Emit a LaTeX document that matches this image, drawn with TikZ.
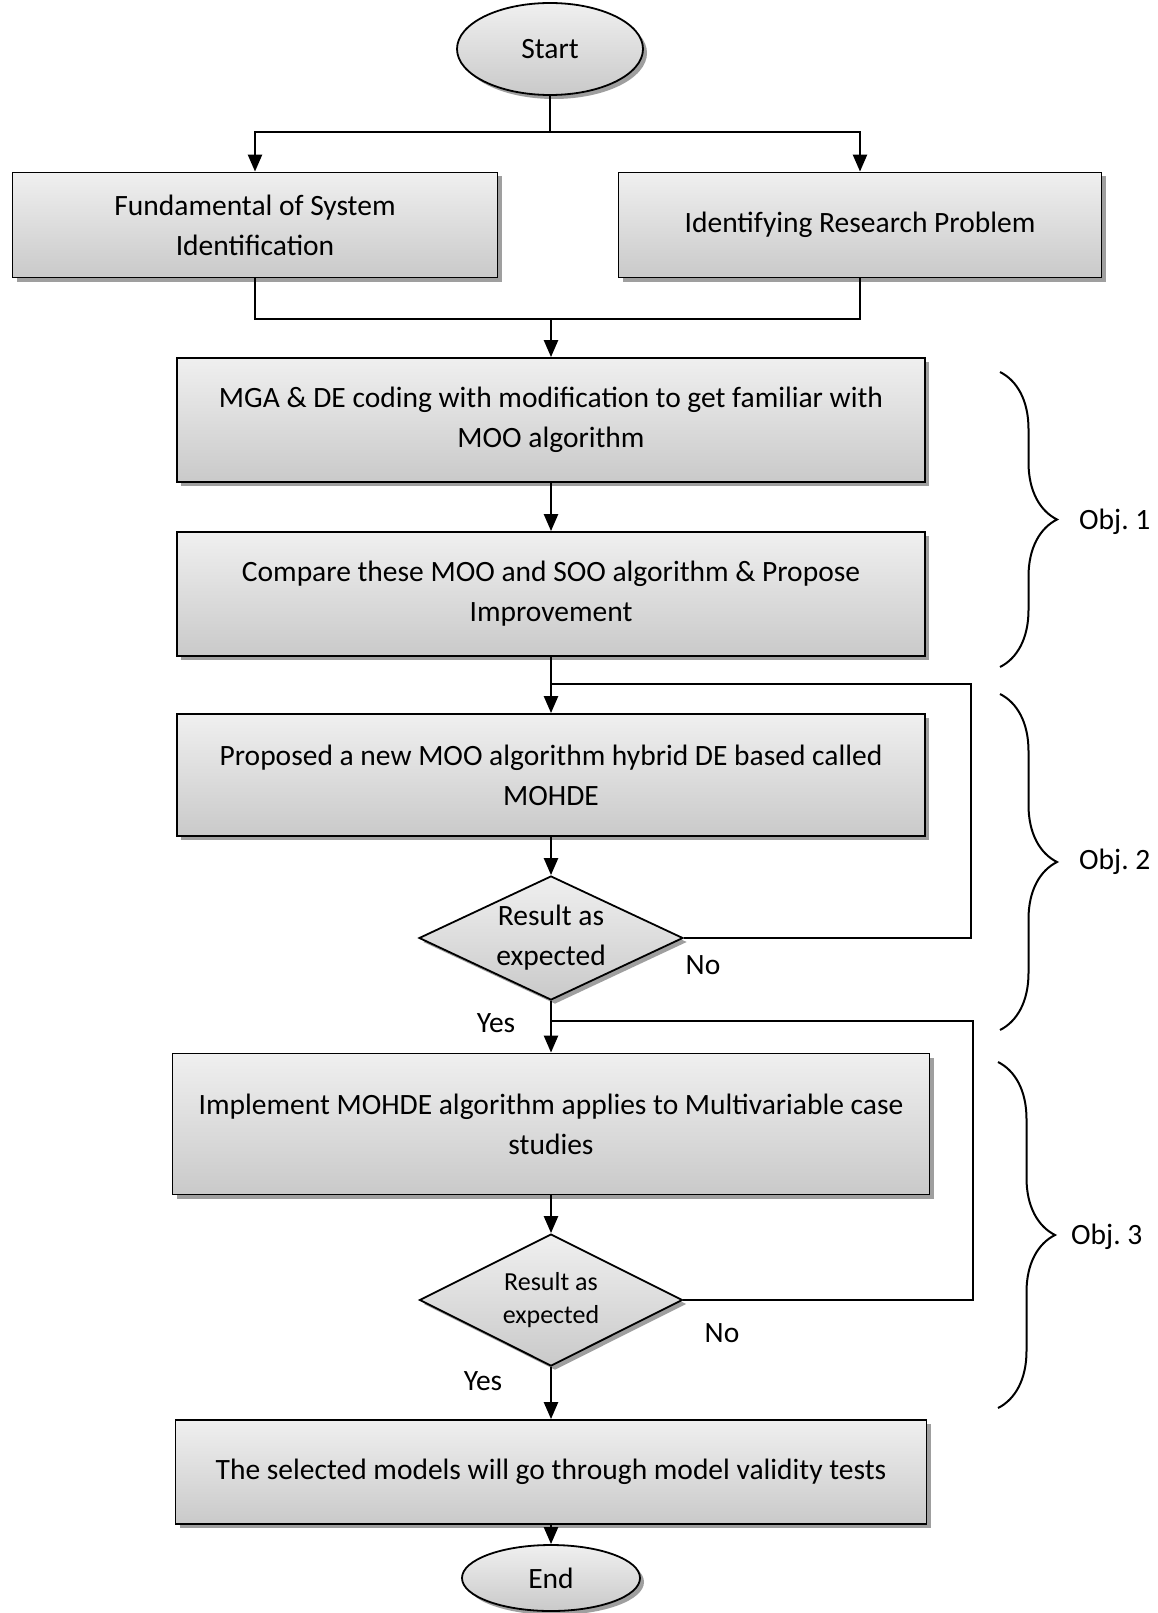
\documentclass[tikz,border=0pt]{standalone}
\usepackage{fontspec}
\setmainfont{Carlito}
\usetikzlibrary{shapes.geometric,shadows,arrows.meta,decorations.pathreplacing}

\begin{document}
\frenchspacing
\begin{tikzpicture}[x=1pt,y=-1pt,
  font=\fontsize{29.5}{40}\selectfont,
  link/.style={line width=2.4pt},
  flow/.style={line width=2.4pt,-{Triangle[length=17pt,width=14pt]}},
  shade3d/.style={top color=gray!12,bottom color=gray!42,draw=black,line width=1.8pt,
    drop shadow={shadow xshift=4pt,shadow yshift=-4pt,fill=gray!75,opacity=1}},
  stepbox/.style={shade3d,rectangle,inner sep=0pt,align=center},
  terminal/.style={shade3d,ellipse,inner sep=0pt},
  decision/.style={shade3d,diamond,inner sep=0pt},
  objbrace/.style={decorate,decoration={brace,amplitude=57pt},line width=2pt},
  tag/.style={inner sep=0pt}]

\useasboundingbox[fill=white] (0,0) rectangle (1158,1613);

% process nodes
\node[terminal,minimum width=186pt,minimum height=92pt] (start) at (550,49) {Start};
\node[stepbox,minimum width=485pt,minimum height=105pt] (fund) at (255,225) {Fundamental of System\\Identification};
\node[stepbox,minimum width=483pt,minimum height=105pt] (ident) at (860,225) {Identifying Research Problem};
\node[stepbox,minimum width=748pt,minimum height=124pt] (mga) at (551,420) {MGA \& DE coding with modification to get familiar with\\MOO algorithm};
\node[stepbox,minimum width=748pt,minimum height=124pt] (comp) at (551,594) {Compare these MOO and SOO algorithm \& Propose\\Improvement};
\node[stepbox,minimum width=748pt,minimum height=122pt] (prop) at (551,775) {Proposed a new MOO algorithm hybrid DE based called\\MOHDE};
\node[decision,minimum width=264pt,minimum height=124pt,
  label={[align=center]center:Result as\\expected}] (dec1) at (551,938) {};
\node[stepbox,minimum width=757pt,minimum height=141pt] (impl) at (551,1124) {Implement MOHDE algorithm applies to Multivariable case\\studies};
\node[decision,minimum width=263pt,minimum height=132pt,
  label={[align=center,font=\fontsize{26}{33}\selectfont]center:Result as\\expected}] (dec2) at (551,1300) {};
\node[stepbox,minimum width=751pt,minimum height=104pt] (valid) at (551,1472) {The selected models will go through model validity tests};
\node[terminal,minimum width=178pt,minimum height=66pt] (end) at (551,1578) {End};

% junction points
\coordinate (split) at (550,132);
\coordinate (merge) at (551,319);
\coordinate (j1) at (551,684);
\coordinate (r1) at (971,684);
\coordinate (j2) at (551,1021);
\coordinate (r2) at (973,1021);

% connectors
\draw[link] (start) -- (split);
\draw[flow] (split) -| (fund.north);
\draw[flow] (split) -| (ident.north);
\draw[link] (fund.south) |- (merge);
\draw[link] (ident.south) |- (merge);
\draw[flow] (merge) -- (mga.north);
\draw[flow] (mga) -- (comp);
\draw[link] (comp.south) -- (j1);
\draw[flow] (j1) -- (prop.north);
\draw[flow] (prop) -- (dec1);
\draw[link] (dec1.east) -| (r1) -- (j1);
\draw[link] (dec1.south) -- (j2);
\draw[flow] (j2) -- (impl.north);
\draw[flow] (impl) -- (dec2);
\draw[link] (dec2.east) -| (r2) -- (j2);
\draw[flow] (dec2.south) -- (valid.north);
\draw[flow] (valid) -- (end);

% branch labels
\node[tag] (no1) at (703,965) {No};
\node[tag] (yes1) at (496,1023) {Yes};
\node[tag] (no2) at (722,1333) {No};
\node[tag] (yes2) at (483,1381) {Yes};

% objective braces
\draw[objbrace] (1000,372) -- (1000,667);
\draw[objbrace] (1000,694) -- (1000,1030);
\draw[objbrace] (998,1062) -- (998,1408);
\node[tag,anchor=west] (obj1) at (1079,522) {Obj. 1};
\node[tag,anchor=west] (obj2) at (1079,862) {Obj. 2};
\node[tag,anchor=west] (obj3) at (1071,1237) {Obj. 3};
\end{tikzpicture}
\end{document}
